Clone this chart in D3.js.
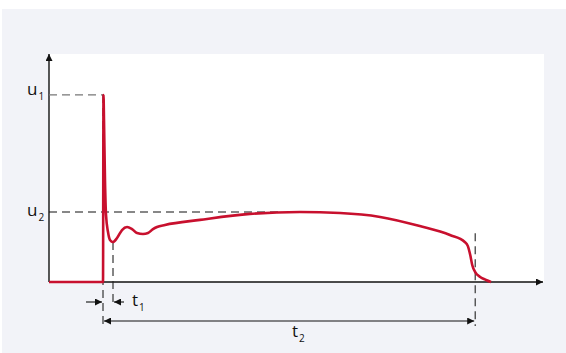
<!DOCTYPE html>
<html><head><meta charset="utf-8">
<script src="https://cdn.jsdelivr.net/npm/d3@7"></script>
<style>html,body{margin:0;padding:0;background:#fff;}svg{display:block;}</style>
</head><body>
<svg id="c" width="566" height="353"></svg>
<script>
// time (arbitrary units) and voltage (relative to u1)
const timeVals = [0, 10.91, 11.01, 11.11, 11.31, 11.52, 11.92, 12.32, 12.93, 13.74, 14.75, 15.76, 16.77, 17.78, 18.99, 20.0, 21.01, 21.82, 23.43, 30.5, 40.6, 50.7, 58.8, 66.9, 74.9, 81.0, 84.0, 84.6, 85.1, 85.5, 86.1, 87.1, 88.3, 89.3];
const voltVals = [0, 0, 1.0, 0.866, 0.545, 0.358, 0.267, 0.225, 0.214, 0.235, 0.278, 0.294, 0.283, 0.262, 0.257, 0.262, 0.283, 0.294, 0.305, 0.332, 0.364, 0.374, 0.369, 0.348, 0.299, 0.251, 0.214, 0.193, 0.144, 0.091, 0.053, 0.027, 0.011, 0];
const levelLabels = ["u", "u"], levelSubs = ["1", "2"], levelVals = [1.0, 0.374];
const timeMarks = [10.91, 12.93, 86.1]; // switch-on, t1 end, t2 end
const timeLabels = ["t", "t"], timeSubs = ["1", "2"];

const svg = d3.select("#c");
const x = d3.scaleLinear().domain([0, 100]).range([49, 544]);
const y = d3.scaleLinear().domain([0, 1.219]).range([282, 54]);
const font = "'Open Sans', 'DejaVu Sans', sans-serif";

svg.append("rect").attr("x", 2).attr("y", 9).attr("width", 564).attr("height", 344).attr("fill", "#f2f3f8");
svg.append("rect").attr("x", x(0)).attr("y", y(1.219)).attr("width", x(100) - x(0)).attr("height", y(0) - y(1.219)).attr("fill", "#fff");

const defs = svg.append("defs");
defs.append("marker").attr("id", "ah").attr("viewBox", "0 0 10 10").attr("refX", 10).attr("refY", 5)
  .attr("markerWidth", 9).attr("markerHeight", 7).attr("markerUnits", "userSpaceOnUse").attr("orient", "auto")
  .append("path").attr("d", "M0,0 L10,5 L0,10 Z").attr("fill", "#111");

// axes
svg.append("line").attr("x1", x(0)).attr("y1", y(0)).attr("x2", x(100) - 1).attr("y2", y(0))
  .attr("stroke", "#111").attr("stroke-width", 1.4).attr("marker-end", "url(#ah)");
svg.append("line").attr("x1", x(0)).attr("y1", y(0)).attr("x2", x(0)).attr("y2", y(1.219))
  .attr("stroke", "#111").attr("stroke-width", 1.4).attr("marker-end", "url(#ah)");

// level dashed lines
svg.append("line").attr("x1", x(0)).attr("x2", x(timeMarks[0])).attr("y1", y(levelVals[0])).attr("y2", y(levelVals[0]))
  .attr("stroke", "#777").attr("stroke-width", 1.3).attr("stroke-dasharray", "8,5");
svg.append("line").attr("x1", x(0)).attr("x2", x(47)).attr("y1", y(levelVals[1])).attr("y2", y(levelVals[1]))
  .attr("stroke", "#111").attr("stroke-width", 1.1).attr("stroke-dasharray", "8,5");

// vertical dashed markers
const vTop = [levelVals[0], 0.214, 0.26];
const vBot = [326, 304, 326];
timeMarks.forEach((t, i) => {
  svg.append("line").attr("x1", x(t)).attr("x2", x(t)).attr("y1", y(vTop[i])).attr("y2", vBot[i])
    .attr("stroke", "#222").attr("stroke-width", 1.1).attr("stroke-dasharray", "8,5");
});

// curve
const data = timeVals.map((t, i) => [t, voltVals[i]]);
svg.append("path").datum(data)
  .attr("d", d3.line().x(d => x(d[0])).y(d => y(d[1])).curve(d3.curveMonotoneX))
  .attr("fill", "none").attr("stroke", "#c8102e").attr("stroke-width", 2.6).attr("stroke-linejoin", "round");

// t1 arrows
const ay1 = 302;
svg.append("line").attr("x1", 86).attr("x2", x(timeMarks[0]) - 1).attr("y1", ay1).attr("y2", ay1)
  .attr("stroke", "#111").attr("stroke-width", 1.1).attr("marker-end", "url(#ah)");
svg.append("line").attr("x1", 124).attr("x2", x(timeMarks[1]) + 1).attr("y1", ay1).attr("y2", ay1)
  .attr("stroke", "#111").attr("stroke-width", 1.1).attr("marker-end", "url(#ah)");
// t2 arrow
const ay2 = 321;
svg.append("line").attr("x1", x(timeMarks[0]) + 1).attr("x2", x(timeMarks[2]) - 1).attr("y1", ay2).attr("y2", ay2)
  .attr("stroke", "#111").attr("stroke-width", 1.1)
  .attr("marker-start", "url(#ahs)").attr("marker-end", "url(#ah)");
defs.append("marker").attr("id", "ahs").attr("viewBox", "0 0 10 10").attr("refX", 0).attr("refY", 5)
  .attr("markerWidth", 9).attr("markerHeight", 7).attr("markerUnits", "userSpaceOnUse").attr("orient", "auto")
  .append("path").attr("d", "M10,0 L0,5 L10,10 Z").attr("fill", "#111");

// labels
function label(px, py, main, sub) {
  const t = svg.append("text").attr("x", px).attr("y", py).attr("font-family", font).attr("font-size", 17).attr("fill", "#111");
  t.append("tspan").text(main);
  t.append("tspan").attr("font-size", 10).attr("dx", 1).attr("dy", 5).text(sub);
}
label(27, y(levelVals[0]) + 0.5, levelLabels[0], levelSubs[0]);
label(27, y(levelVals[1]) + 3.5, levelLabels[1], levelSubs[1]);
label(132, 306, timeLabels[0], timeSubs[0]);
label(292, 337, timeLabels[1], timeSubs[1]);
</script>
</body></html>
